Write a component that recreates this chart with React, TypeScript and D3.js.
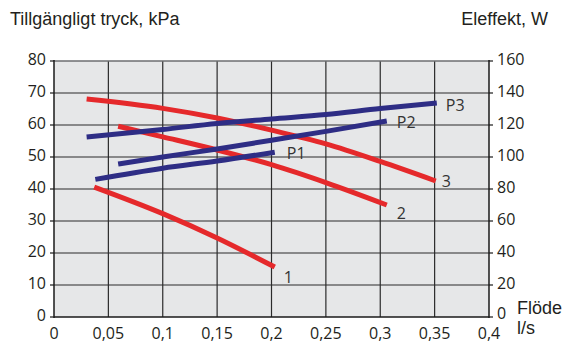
import React from "react";
import * as d3 from "d3";

// ---- data ----
const xTicks = [0, 0.05, 0.1, 0.15, 0.2, 0.25, 0.3, 0.35, 0.4];
const xTickLabels = ["0", "0,05", "0,1", "0,15", "0,2", "0,25", "0,3", "0,35", "0,4"];
const leftTicks = [0, 10, 20, 30, 40, 50, 60, 70, 80];
const rightTicks = [0, 20, 40, 60, 80, 100, 120, 140, 160];

// pressure curves (kPa) : [flow l/s, kPa]
const curve1: [number, number][] = [[0.037, 40.6], [0.1, 32.3], [0.15, 24.7], [0.203, 15.6]];
const curve2: [number, number][] = [[0.059, 59.6], [0.1, 56.3], [0.15, 52.2], [0.2, 47.6], [0.25, 42.0], [0.306, 35]];
const curve3: [number, number][] = [[0.03, 68.1], [0.1, 65.2], [0.15, 62.2], [0.2, 58.4], [0.25, 54.1], [0.3, 48.6], [0.351, 42.5]];

// power curves (W) : [flow l/s, W]
const powerP1: [number, number][] = [[0.038, 86], [0.1, 93], [0.15, 97.5], [0.203, 103]];
const powerP2: [number, number][] = [[0.059, 95.6], [0.1, 100], [0.15, 105], [0.2, 110.5], [0.25, 116], [0.306, 122.5]];
const powerP3: [number, number][] = [[0.03, 112.5], [0.1, 117.2], [0.15, 121], [0.2, 123.8], [0.25, 126.5], [0.3, 130.3], [0.352, 133.7]];

const pressureNames = ["1", "2", "3"];
const powerNames = ["P1", "P2", "P3"];

export default function App() {
  const W = 565, H = 343;
  const left = 54, right = 489, top = 61, bottom = 317;
  const x = d3.scaleLinear().domain([0, 0.4]).range([left, right]);
  const yL = d3.scaleLinear().domain([0, 80]).range([bottom, top]);
  const yR = d3.scaleLinear().domain([0, 160]).range([bottom, top]);

  const red = "#e5292b";
  const blue = "#2e2d85";
  const tickFont = "'Open Sans', 'DejaVu Sans', sans-serif";
  const titleFont = "'Liberation Sans', Arial, sans-serif";

  const lineL = d3.line<[number, number]>().x(d => x(d[0])).y(d => yL(d[1])).curve(d3.curveMonotoneX);
  const lineR = d3.line<[number, number]>().x(d => x(d[0])).y(d => yR(d[1])).curve(d3.curveMonotoneX);

  const pressure = [curve1, curve2, curve3];
  const power = [powerP1, powerP2, powerP3];
  const pLabelOff = [[9, 10], [10, 8], [6, 0]];
  const wLabelOff = [[12, 1], [10, 1], [9, 2]];

  return (
    <svg width={W} height={H} style={{ position: "absolute", left: 0, top: 0, background: "#fff" }}>
      <rect x={left} y={top} width={right - left} height={bottom - top} fill="#e6e7e8" />
      {/* grid */}
      {xTicks.slice(1, -1).map((t, i) => (
        <line key={"gx" + i} x1={x(t)} x2={x(t)} y1={top} y2={bottom} stroke="#2b2b2b" strokeWidth={1.2} />
      ))}
      {leftTicks.slice(1, -1).map((t, i) => (
        <line key={"gy" + i} x1={left} x2={right} y1={yL(t)} y2={yL(t)} stroke="#2b2b2b" strokeWidth={1.2} />
      ))}
      <line x1={left} x2={right} y1={top} y2={top} stroke="#6d6e70" strokeWidth={1.3} />
      {/* axes */}
      <line x1={left} x2={left} y1={top - 1} y2={bottom + 1} stroke="#1a1a1a" strokeWidth={1.5} />
      <line x1={left} x2={right} y1={bottom} y2={bottom} stroke="#1a1a1a" strokeWidth={1.5} />
      <line x1={right} x2={right} y1={top - 1} y2={bottom + 1} stroke="#1a1a1a" strokeWidth={1.5} />
      {leftTicks.map((t, i) => (
        <g key={"lt" + i}>
          <line x1={left - 4} x2={left} y1={yL(t)} y2={yL(t)} stroke="#1a1a1a" strokeWidth={1.2} />
          <text x={46} y={yL(t) - 2} textAnchor="end" dominantBaseline="central" fontFamily={tickFont} fontSize={16} fill="#231f20">{t}</text>
        </g>
      ))}
      {rightTicks.map((t, i) => (
        <g key={"rt" + i}>
          <line x1={right} x2={right + 4} y1={yR(t)} y2={yR(t)} stroke="#1a1a1a" strokeWidth={1.2} />
          <text x={497} y={yR(t) - (t === 0 ? 4 : 2)} textAnchor="start" dominantBaseline="central" fontFamily={tickFont} fontSize={16} fill="#231f20">{t}</text>
        </g>
      ))}
      {xTicks.map((t, i) => (
        <text key={"xt" + i} x={x(t)} y={333} textAnchor="middle" dominantBaseline="central" fontFamily={tickFont} fontSize={16} fill="#231f20">{xTickLabels[i]}</text>
      ))}
      {/* curves */}
      {pressure.map((c, i) => (
        <g key={"p" + i}>
          <path d={lineL(c) || ""} fill="none" stroke={red} strokeWidth={5} />
          <text x={x(c[c.length - 1][0]) + pLabelOff[i][0]} y={yL(c[c.length - 1][1]) + pLabelOff[i][1]} dominantBaseline="central" fontFamily={tickFont} fontSize={16} fill="#333">{pressureNames[i]}</text>
        </g>
      ))}
      {power.map((c, i) => (
        <g key={"w" + i}>
          <path d={lineR(c) || ""} fill="none" stroke={blue} strokeWidth={5} />
          <text x={x(c[c.length - 1][0]) + wLabelOff[i][0]} y={yR(c[c.length - 1][1]) + wLabelOff[i][1]} dominantBaseline="central" fontFamily={tickFont} fontSize={16} fill="#333">{powerNames[i]}</text>
        </g>
      ))}
      {/* titles */}
      <text x={10} y={25} fontFamily={titleFont} fontSize={18} fill="#231f20">Tillgängligt tryck, kPa</text>
      <text x={548} y={25} textAnchor="end" fontFamily={titleFont} fontSize={18} fill="#231f20">Eleffekt, W</text>
      <text x={517} y={308} dominantBaseline="central" fontFamily={titleFont} fontSize={18} fill="#231f20">Flöde</text>
      <text x={517} y={328} dominantBaseline="central" fontFamily={titleFont} fontSize={18} fill="#231f20">l/s</text>
    </svg>
  );
}
